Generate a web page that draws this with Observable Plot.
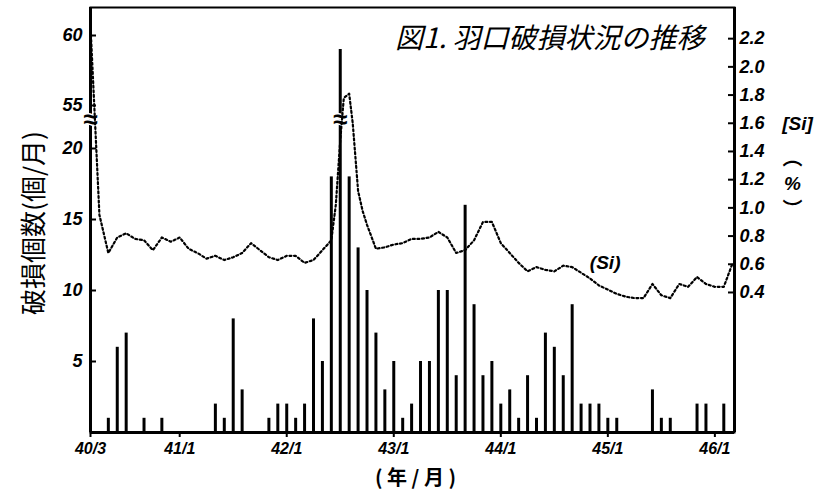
<!DOCTYPE html>
<html><head><meta charset="utf-8">
<script src="https://cdn.jsdelivr.net/npm/d3@7"></script>
<script src="https://cdn.jsdelivr.net/npm/@observablehq/plot@0.6"></script>
<style>
body{margin:0;background:#fff;}
#chart{position:relative;width:833px;height:496px;background:#fff;}
#chart svg{position:absolute;left:0;top:0;}
</style></head><body><div id="chart"></div>
<script>
// month index 0 = 昭和40年3月
const barMonths = [2,3,4,6,8,14,15,16,17,20,21,22,23,24,25,26,27,28,29,30,31,32,33,34,35,36,37,38,39,40,41,42,43,44,45,46,47,48,49,50,51,52,53,54,55,56,57,58,59,63,64,65,68,69,71];
const barCounts = [1,6,7,1,1,2,1,8,3,1,2,2,1,2,8,5,18,59,18,13,10,7,3,5,1,2,5,5,10,10,4,16,9,4,5,2,3,1,4,1,7,6,4,9,2,2,2,1,1,3,1,1,2,2,2];
const siMonths = [0,1,2,3,4,5,6,7,8,9,10,11,12,13,14,15,16,17,18,19,20,21,22,23,24,25,26,27,27.5,28,28.4,29,29.4,30,30.5,31,32,33,34,35,36,37,38,39,40,41,42,43,44,45,46,47,48,49,50,51,52,53,54,55,56,57,58,59,60,61,62,63,64,65,66,67,68,69,70,71,72];
const siValues = [2.29,0.95,0.68,0.79,0.82,0.78,0.77,0.70,0.79,0.76,0.79,0.71,0.68,0.64,0.66,0.63,0.65,0.68,0.75,0.70,0.65,0.63,0.66,0.66,0.61,0.63,0.70,0.77,1.02,1.48,1.78,1.81,1.60,1.12,0.98,0.88,0.71,0.72,0.74,0.75,0.78,0.78,0.79,0.83,0.79,0.68,0.70,0.77,0.90,0.90,0.75,0.68,0.61,0.55,0.58,0.56,0.55,0.59,0.58,0.54,0.50,0.45,0.42,0.39,0.37,0.36,0.36,0.46,0.38,0.36,0.46,0.44,0.51,0.46,0.44,0.44,0.61];
const xTickMonths = [0,10,22,34,46,58,70];
const xTickLabels = ["40/3","41/1","42/1","43/1","44/1","45/1","46/1"];
const leftTicks = [5,10,15,20,55,60];
const rightTicks = [0.4,0.6,0.8,1.0,1.2,1.4,1.6,1.8,2.0,2.2];
const breakMonths = [0,28];
const titleText = "図1. 羽口破損状況の推移";
const yLabel = "破損個数(個/月)";
const xLabel = "( 年 / 月 )";
const siAxisLabel = "[Si]";
const unitParts = ["︵","%","︶"];
const siLineLabel = "(Si)";

const bars = barMonths.map((m,i)=>({m, n: barCounts[i]}));
const si = siMonths.map((m,i)=>({m, v: siValues[i]}));

const W=833, H=496;
const M = {marginTop:7, marginRight:99, marginBottom:64, marginLeft:90};
const xDomain = [0,72.2];
const numFont = "'Liberation Sans', 'DejaVu Sans', sans-serif";
const cjkFont = "'Noto Sans CJK JP', sans-serif";

const p1 = Plot.plot({
  width:W, height:H, ...M,
  style:{background:"transparent", fontFamily:numFont, color:"#000"},
  x:{domain:xDomain},
  y:{type:"linear", domain:[0,22,54,62], range:[432,119.6,119,7]},
  marks:[
    Plot.ruleX(bars,{x:"m", y1:0, y2:"n", stroke:"#000", strokeWidth:3}),
    Plot.frame({stroke:"#000", strokeWidth:2}),
    Plot.ruleX([xDomain[0], xDomain[1]],{stroke:"#000", strokeWidth:3}),
    Plot.ruleY([0],{stroke:"#000", strokeWidth:3}),
    Plot.tickY(leftTicks,{y:d=>d, insetRight:638, stroke:"#000", strokeWidth:2}),
    Plot.axisY({ticks:leftTicks, tickSize:0, tickPadding:8, label:null, fontSize:18, fontStyle:"italic", fontWeight:"bold", fontFamily:numFont}),
    Plot.axisX({ticks:xTickMonths, tickFormat:d=>xTickLabels[xTickMonths.indexOf(d)], tickSize:5, tickPadding:5, label:null, fontSize:16, fontStyle:"italic", fontWeight:"bold", fontFamily:numFont, strokeWidth:2}),
    Plot.text(breakMonths,{x:d=>d, y:38, text:()=>"≈", fontSize:26, fontWeight:"bold", fill:"#000", stroke:"#fff", strokeWidth:3}),
    Plot.text([titleText],{frameAnchor:"top-right", dx:-30, dy:32, textAnchor:"end", lineAnchor:"middle", fontSize:28, fontStyle:"italic", fontFamily:cjkFont, fill:"#000"}),
    Plot.text([yLabel],{frameAnchor:"left", dx:-56, dy:3, rotate:-90, textAnchor:"middle", lineAnchor:"middle", fontSize:26, fontFamily:cjkFont, fill:"#000"}),
    Plot.text([xLabel],{frameAnchor:"bottom", dx:3, dy:52, textAnchor:"middle", fontSize:20, fontWeight:"bold", fontFamily:cjkFont, fill:"#000"})
  ]
});

const p2 = Plot.plot({
  width:W, height:H, ...M,
  style:{background:"transparent", fontFamily:numFont, color:"#000"},
  x:{domain:xDomain, axis:null},
  y:{domain:[-0.593,2.421], axis:null},
  marks:[
    Plot.line(si,{x:"m", y:"v", stroke:"#000", strokeWidth:2.2, strokeDasharray:"2,2.6"}),
    Plot.tickY(rightTicks,{y:d=>d, insetLeft:638, stroke:"#000", strokeWidth:2}),
    Plot.axisY({anchor:"right", ticks:rightTicks, tickFormat:d=>d.toFixed(1), tickSize:0, tickPadding:5, label:null, fontSize:18, fontStyle:"italic", fontWeight:"bold", fontFamily:numFont}),
    Plot.text([siAxisLabel],{frameAnchor:"top-right", dx:63, dy:116, textAnchor:"middle", lineAnchor:"middle", fontSize:19, fontStyle:"italic", fontWeight:"bold", fontFamily:numFont, fill:"#000"}),
    Plot.text([unitParts[0]],{frameAnchor:"top-right", dx:58, dy:151, textAnchor:"middle", lineAnchor:"middle", fontSize:20, fontWeight:"bold", fontFamily:cjkFont, fill:"#000"}),
    Plot.text([unitParts[1]],{frameAnchor:"top-right", dx:58, dy:176, textAnchor:"middle", lineAnchor:"middle", fontSize:19, fontStyle:"italic", fontWeight:"bold", fontFamily:numFont, fill:"#000"}),
    Plot.text([unitParts[2]],{frameAnchor:"top-right", dx:58, dy:203, textAnchor:"middle", lineAnchor:"middle", fontSize:20, fontWeight:"bold", fontFamily:cjkFont, fill:"#000"}),
    Plot.text([siLineLabel],{x:57.7, y:0.61, fontSize:19, fontStyle:"italic", fontWeight:"bold", fontFamily:numFont, fill:"#000"})
  ]
});

const c = document.getElementById("chart");
c.appendChild(p1);
c.appendChild(p2);
</script></body></html>
